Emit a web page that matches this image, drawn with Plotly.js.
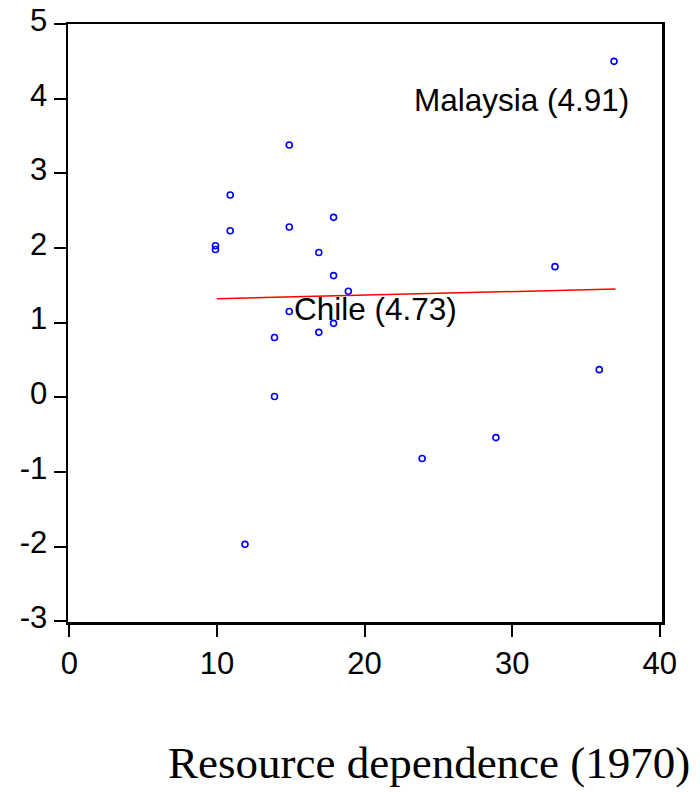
<!DOCTYPE html>
<html>
<head>
<meta charset="utf-8">
<script src="https://cdn.plot.ly/plotly-3.0.1.min.js"></script>
<style>html,body{margin:0;padding:0;background:#fff;}#chart{width:700px;height:792px;}</style>
</head>
<body>
<div id="chart"></div>
<script>
// Resource dependence (1970) vs. growth
const resourceDep = [9.9, 9.9, 10.9, 10.9, 11.9, 13.9, 13.9, 14.9, 14.9, 14.9, 16.9, 16.9, 17.9, 17.9, 17.9, 18.9, 23.9, 28.9, 32.9, 35.9, 36.9];
const growth      = [2.03, 1.98, 2.71, 2.23, -1.97, 0.80, 0.01, 3.38, 2.28, 1.15, 1.94, 0.87, 2.41, 1.63, 0.99, 1.42, -0.82, -0.54, 1.75, 0.37, 4.50];
const fitX = [10.0, 37.0];
const fitY = [1.32, 1.45];
const labelText = ["Malaysia (4.91)", "Chile (4.73)"];
const labelX = [23.24, 15.11];
const labelY = [3.977, 1.185];
const xTicks = [0, 10, 20, 30, 40];
const yTicks = [-3, -2, -1, 0, 1, 2, 3, 4, 5];
const xTitle = "Resource dependence (1970)";

const traces = [
  {
    x: resourceDep, y: growth, type: 'scatter', mode: 'markers',
    marker: {symbol: 'circle-open', size: 6, color: '#0000ff', line: {color: '#0000ff', width: 1.6}},
    hoverinfo: 'x+y'
  },
  {
    x: fitX, y: fitY, type: 'scatter', mode: 'lines',
    line: {color: '#ff0000', width: 1.5}
  }
];

const tickFont = {family: '"Liberation Sans", Arial, Helvetica, sans-serif', size: 31, color: '#000'};

const annotations = labelText.map((t, i) => ({
  text: t, x: labelX[i], y: labelY[i], xref: 'x', yref: 'y',
  xanchor: 'left', yanchor: 'middle', showarrow: false,
  font: {family: '"Liberation Sans", Arial, Helvetica, sans-serif', size: 31.5, color: '#000'}
}));
annotations.push({
  text: xTitle, xref: 'paper', yref: 'paper', x: 0.607, y: -0.236,
  xanchor: 'center', yanchor: 'middle', showarrow: false,
  font: {family: '"Liberation Serif", "Times New Roman", serif', size: 45, color: '#000'}
});

const layout = {
  width: 700, height: 792,
  margin: {l: 68, r: 38, t: 24, b: 170, pad: 0},
  paper_bgcolor: '#fff', plot_bgcolor: '#fff',
  showlegend: false,
  xaxis: {
    range: [-0.09, 40.15], tickvals: xTicks, ticktext: xTicks.map(String),
    showgrid: false, zeroline: false,
    showline: true, mirror: true, linecolor: '#000', linewidth: 2.5,
    ticks: 'outside', ticklen: 12, tickwidth: 2, tickcolor: '#000',
    tickfont: tickFont
  },
  yaxis: {
    range: [-3.01, 5.0], tickvals: yTicks, ticktext: yTicks.map(String),
    showgrid: false, zeroline: false,
    showline: true, mirror: true, linecolor: '#000', linewidth: 2.5,
    ticks: 'outside', ticklen: 12, tickwidth: 2, tickcolor: '#000',
    ticklabelshift: -4,
    tickfont: tickFont
  },
  annotations: annotations
};

Plotly.newPlot('chart', traces, layout, {displayModeBar: false, staticPlot: true});
</script>
</body>
</html>
